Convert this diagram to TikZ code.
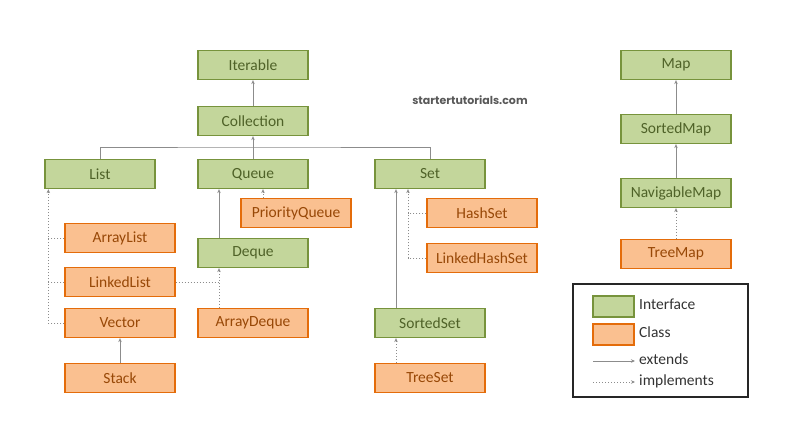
\documentclass[tikz,border=0pt]{standalone}
\usepackage{fontspec}
\setmainfont{Carlito}
\newfontfamily\markfont{Poppins}
\usepackage{tikz}
\usetikzlibrary{arrows.meta}
\usetikzlibrary{positioning}
\definecolor{ifill}{HTML}{C3D69B}
\definecolor{idraw}{HTML}{77933C}
\definecolor{itext}{HTML}{4F6228}
\definecolor{cfill}{HTML}{FAC090}
\definecolor{cdraw}{HTML}{E46C0A}
\definecolor{ctext}{HTML}{984807}
\definecolor{edgegray}{HTML}{8C8C8C}
\tikzset{
	x=1pt, y=-1pt,
	link/.style = {draw=edgegray, line width=1pt},
	box/.style = {rectangle, line width=1.3pt, minimum width=110pt, minimum height=29pt, inner sep=0pt, font=\fontsize{15.5}{17}\selectfont},
	iface/.style = {box, draw=idraw, fill=ifill, text=itext},
	cls/.style = {box, draw=cdraw, fill=cfill, text=ctext},
	ext/.style = {link, -{Stealth[length=4pt,width=3.5pt]}},
	impl/.style = {link, dotted, -{Stealth[length=4pt,width=3.5pt]}}
}
\begin{document}
\begin{tikzpicture}[legend/.style={rectangle, line width=1.3pt, minimum width=41pt, minimum height=21pt, inner sep=0pt}, lbl/.style={anchor=west, inner sep=0pt, text=black!80, font=\fontsize{15.5}{17}\selectfont}]
	\useasboundingbox (0,0) rectangle (785,426);
	\node (iterable) [iface] at (253,65) {Iterable};
	\node (collection) [iface] at (253,121) {Collection};
	\node (list) [iface] at (100,174) {List};
	\node (queue) [iface] at (253,174) {Queue};
	\node (set) [iface] at (430,174) {Set};
	\node (priorityqueue) [cls] at (296,213) {PriorityQueue};
	\node (deque) [iface] at (253,253) {Deque};
	\node (arraydeque) [cls] at (253,323) {ArrayDeque};
	\node (arraylist) [cls] at (120,238) {ArrayList};
	\node (linkedlist) [cls] at (120,282) {LinkedList};
	\node (vector) [cls] at (120,323) {Vector};
	\node (stack) [cls] at (120,378) {Stack};
	\node (hashset) [cls] at (482,213) {HashSet};
	\node (linkedhashset) [cls] at (482,258) {LinkedHashSet};
	\node (sortedset) [iface] at (430,323) {SortedSet};
	\node (treeset) [cls] at (430,378) {TreeSet};
	\node (map) [iface] at (676,65) {Map};
	\node (sortedmap) [iface] at (676,129) {SortedMap};
	\node (navigablemap) [iface] at (676,193) {NavigableMap};
	\node (treemap) [cls] at (676,254) {TreeMap};
	\node (site) [inner sep=0pt, text=black!65, font=\markfont\bfseries\fontsize{11}{13}\selectfont] at (470,100) {startertutorials.com};
	\coordinate (bus) at (253,147);
	\draw [ext] (collection) -- (iterable);
	\draw [ext] (queue) -- (collection);
	\draw [link] (list.north) |- (bus) -| (set.north);
	\draw [impl] ([xshift=-33pt]priorityqueue.north) -- ([xshift=-33pt]priorityqueue.north |- queue.south);
	\draw [ext] ([xshift=-34pt]deque.north) -- ([xshift=-34pt]queue.south);
	\draw [impl] ([xshift=-34pt]arraydeque.north) -- ([xshift=-34pt]deque.south);
	\draw [link, dotted] (linkedlist.east) -- ([xshift=-34pt]deque.south |- linkedlist.east);
	\draw [impl] (vector.west) -| ([xshift=4pt]list.south west);
	\draw [link, dotted] (arraylist.west) -- ([xshift=4pt]list.south west |- arraylist.west);
	\draw [link, dotted] (linkedlist.west) -- ([xshift=4pt]list.south west |- linkedlist.west);
	\draw [ext] (stack) -- (vector);
	\draw [impl] (linkedhashset.west) -| ([xshift=-22pt]set.south);
	\draw [link, dotted] (hashset.west) -- ([xshift=-22pt]set.south |- hashset.west);
	\draw [ext] ([xshift=-34pt]sortedset.north) -- ([xshift=-34pt]set.south);
	\draw [impl] ([xshift=-34pt]treeset.north) -- ([xshift=-34pt]sortedset.south);
	\draw [ext] (sortedmap) -- (map);
	\draw [ext] (navigablemap) -- (sortedmap);
	\draw [impl] (treemap) -- (navigablemap);
	\node (key) [rectangle, draw=black!85, line width=1.3pt, minimum width=175pt, minimum height=113pt, inner sep=0pt] at (660.5,340.5) {};
	\node (keyiface) [legend, draw=idraw, fill=ifill] at (613.5,306.5) {};
	\node (keycls) [legend, draw=cdraw, fill=cfill] at (613.5,334.5) {};
	\coordinate (extstart) at (593,361);
	\coordinate (extend) at (635,361);
	\coordinate (implstart) at (593,382);
	\coordinate (implend) at (635,382);
	\draw [ext] (extstart) -- (extend);
	\draw [impl] (implstart) -- (implend);
	\node (ifacetext) [lbl] at (639,304) {Interface};
	\node (clstext) [lbl] at (639,332) {Class};
	\node (exttext) [lbl] at (639,359) {extends};
	\node (impltext) [lbl] at (639,381) {implements};
\end{tikzpicture}
\end{document}
